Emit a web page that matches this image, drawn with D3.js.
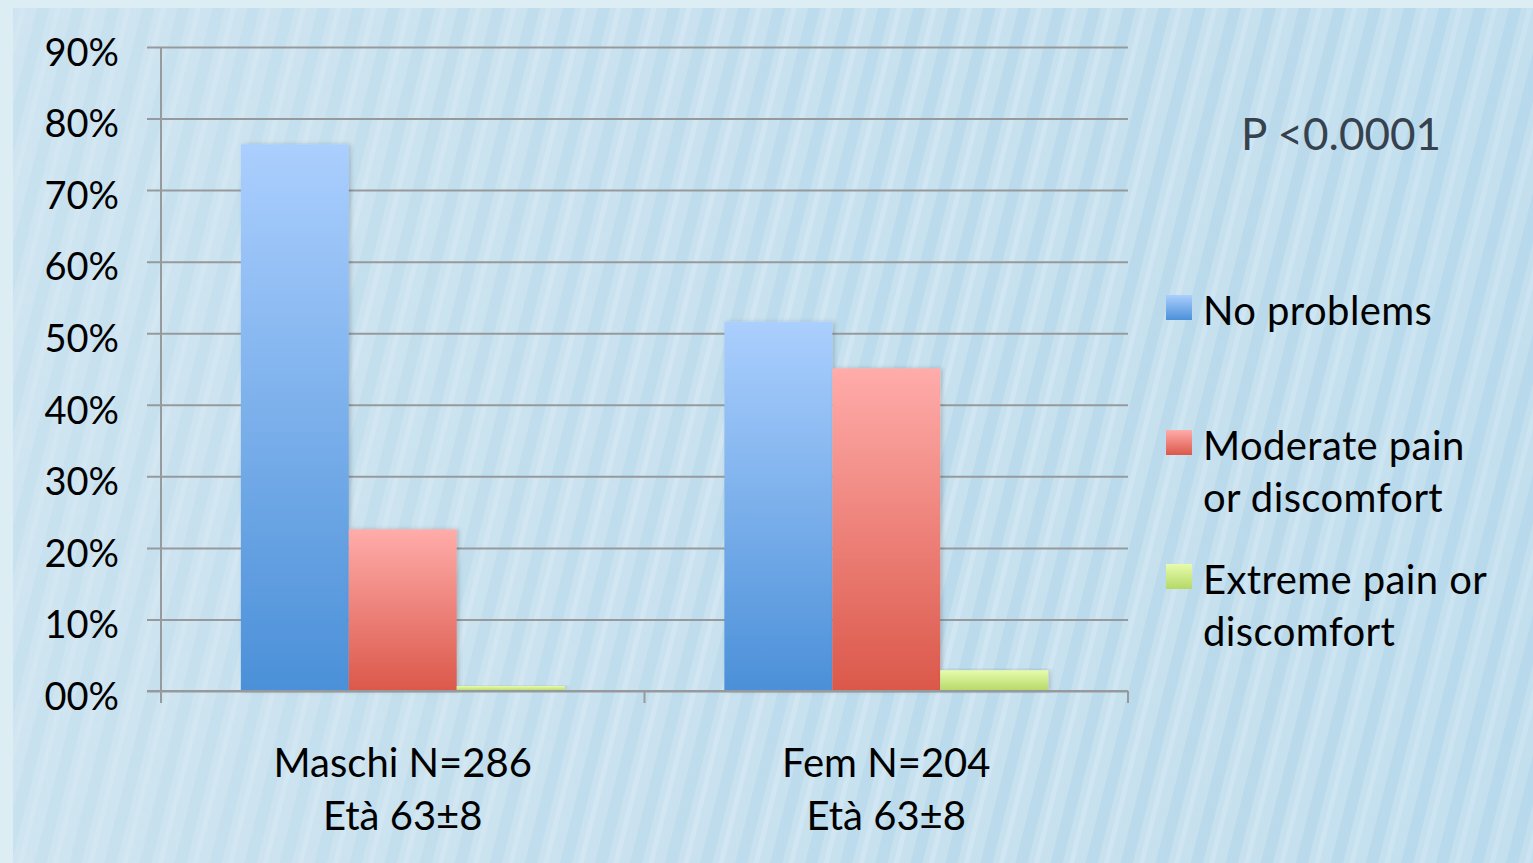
<!DOCTYPE html>
<html>
<head>
<meta charset="utf-8">
<script src="https://cdn.jsdelivr.net/npm/d3@7"></script>
<style>
  html, body { margin: 0; padding: 0; background: #dcedf4; }
  svg { display: block; }
  text { font-family: Lato, "Open Sans", sans-serif; }
</style>
</head>
<body>
<svg id="chart" width="1533" height="863"></svg>
<script>
  // data
  var categories = ['Maschi N=286|Età 63±8', 'Fem N=204|Età 63±8'];
  var series = ['No problems', 'Moderate pain|or discomfort', 'Extreme pain or|discomfort'];
  var values = [
    [76.4, 22.6, 0.7],
    [51.6, 45.1, 2.9]
  ];
  var yTicks = [0, 10, 20, 30, 40, 50, 60, 70, 80, 90];
  var yTickLabels = ['00%', '10%', '20%', '30%', '40%', '50%', '60%', '70%', '80%', '90%'];
  var note = 'P <0.0001';

  var grads = [
    ['#abcffe', '#4b90d8'],
    ['#ffacaa', '#db584a'],
    ['#e6fcac', '#b5d866']
  ];

  var W = 1533, H = 863;
  var plot = { left: 161, right: 1128, top: 47, bottom: 691 };

  var svg = d3.select('#chart');
  var defs = svg.append('defs');

  // background stripes
  var pat = defs.append('pattern')
    .attr('id', 'stripes')
    .attr('patternUnits', 'userSpaceOnUse')
    .attr('width', 34).attr('height', 34)
    .attr('patternTransform', 'rotate(14)');
  pat.append('rect').attr('width', 34).attr('height', 34).attr('fill', '#c6e0ee');
  pat.append('rect').attr('x', 4).attr('width', 12).attr('height', 34)
    .attr('fill', '#b2d6ea').attr('opacity', 0.7);
  pat.append('rect').attr('x', 22).attr('width', 5).attr('height', 34)
    .attr('fill', '#d2e7f2').attr('opacity', 0.8);

  var fadeBg = defs.append('linearGradient').attr('id', 'bgfade')
    .attr('x1', 0).attr('x2', 1).attr('y1', 0).attr('y2', 0);
  fadeBg.append('stop').attr('offset', '0%').attr('stop-color', '#d6e8f2').attr('stop-opacity', 0.55);
  fadeBg.append('stop').attr('offset', '60%').attr('stop-color', '#d6e8f2').attr('stop-opacity', 0.1);
  fadeBg.append('stop').attr('offset', '100%').attr('stop-color', '#b8dbee').attr('stop-opacity', 0.2);

  svg.append('rect').attr('width', W).attr('height', H).attr('fill', '#dcedf4');
  svg.append('rect').attr('x', 13).attr('y', 8).attr('width', W - 13).attr('height', H - 8)
    .attr('fill', 'url(#stripes)');
  svg.append('rect').attr('x', 13).attr('y', 8).attr('width', W - 13).attr('height', H - 8)
    .attr('fill', 'url(#bgfade)');

  grads.forEach(function(g, i) {
    var lg = defs.append('linearGradient').attr('id', 'bar' + i)
      .attr('x1', 0).attr('x2', 0).attr('y1', 0).attr('y2', 1);
    lg.append('stop').attr('offset', '0%').attr('stop-color', g[0]);
    lg.append('stop').attr('offset', '100%').attr('stop-color', g[1]);
  });

  var shadow = defs.append('filter').attr('id', 'shadow')
    .attr('x', '-10%').attr('y', '-10%').attr('width', '130%').attr('height', '120%');
  shadow.append('feDropShadow').attr('dx', 2).attr('dy', 0).attr('stdDeviation', 2)
    .attr('flood-color', '#000').attr('flood-opacity', 0.18);

  // scales
  var y = d3.scaleLinear().domain([0, 90]).range([plot.bottom, plot.top]);
  var x0 = d3.scaleBand().domain(categories).range([plot.left, plot.right]).padding(0);
  var x1 = d3.scaleBand().domain(d3.range(series.length))
    .range([0, x0.bandwidth()]).paddingInner(0).paddingOuter(0.74);

  // grid + y axis
  var yAxis = d3.axisLeft(y).tickValues(yTicks)
    .tickSize(-(plot.right - plot.left))
    .tickFormat(function(d, i) { return yTickLabels[i]; });
  var gy = svg.append('g').attr('transform', 'translate(' + plot.left + ',0)').call(yAxis);
  gy.select('.domain').remove();
  gy.selectAll('.tick line').attr('stroke', '#979a9c').attr('stroke-width', 2)
    .attr('x1', -14);
  gy.selectAll('.tick text').attr('x', -42).attr('dy', '0.48em')
    .attr('font-size', 38).attr('fill', '#000');

  // left axis line
  svg.append('line')
    .attr('x1', plot.left).attr('x2', plot.left)
    .attr('y1', plot.top).attr('y2', plot.bottom + 12)
    .attr('stroke', '#979a9c').attr('stroke-width', 2);

  // x ticks
  var xTickPos = [plot.left].concat(categories.map(function(c) { return x0(c) + x0.bandwidth(); }));
  svg.selectAll('.xtick').data(xTickPos).enter().append('line')
    .attr('class', 'xtick')
    .attr('x1', function(d) { return d; }).attr('x2', function(d) { return d; })
    .attr('y1', plot.bottom).attr('y2', plot.bottom + 12)
    .attr('stroke', '#979a9c').attr('stroke-width', 2);

  // bars
  var groups = svg.selectAll('.grp').data(categories).enter().append('g')
    .attr('class', 'grp')
    .attr('transform', function(c) { return 'translate(' + x0(c) + ',0)'; });
  groups.selectAll('rect').data(function(c, ci) {
    return values[ci].map(function(v, si) { return { s: si, v: v }; });
  }).enter().append('rect')
    .attr('x', function(d) { return x1(d.s); })
    .attr('width', x1.bandwidth())
    .attr('y', function(d) { return y(d.v); })
    .attr('height', function(d) { return y(0) - y(d.v); })
    .attr('fill', function(d) { return 'url(#bar' + d.s + ')'; })
    .attr('filter', 'url(#shadow)');

  // baseline over bars
  svg.append('line')
    .attr('x1', plot.left - 14).attr('x2', plot.right)
    .attr('y1', y(0)).attr('y2', y(0))
    .attr('stroke', '#979a9c').attr('stroke-width', 2);

  // category labels
  var cl = svg.selectAll('.cat').data(categories).enter().append('text')
    .attr('class', 'cat')
    .attr('text-anchor', 'middle')
    .attr('font-size', 40)
    .attr('fill', '#000')
    .attr('x', function(c) { return x0(c) + x0.bandwidth() / 2; })
    .attr('y', 777);
  cl.selectAll('tspan').data(function(c) { return c.split('|'); }).enter().append('tspan')
    .attr('x', function() { var p = this.parentNode; return d3.select(p).attr('x'); })
    .attr('dy', function(d, i) { return i ? 53 : 0; })
    .text(function(d) { return d; });

  // legend
  var legY = [295, 430, 564];
  var leg = svg.selectAll('.leg').data(series).enter().append('g')
    .attr('class', 'leg')
    .attr('transform', function(d, i) { return 'translate(1166,' + legY[i] + ')'; });
  leg.append('rect').attr('width', 26).attr('height', 25)
    .attr('fill', function(d, i) { return 'url(#bar' + i + ')'; });
  var lt = leg.append('text').attr('x', 37).attr('y', 30)
    .attr('font-size', 40).attr('letter-spacing', 0.4).attr('fill', '#000');
  lt.selectAll('tspan').data(function(d) { return d.split('|'); }).enter().append('tspan')
    .attr('x', 37)
    .attr('dy', function(d, i) { return i ? 52 : 0; })
    .text(function(d) { return d; });

  // p-value note
  svg.append('text')
    .attr('x', 1341).attr('y', 150)
    .attr('text-anchor', 'middle')
    .attr('font-size', 44)
    .attr('fill', '#37424f')
    .text(note);
</script>
</body>
</html>
